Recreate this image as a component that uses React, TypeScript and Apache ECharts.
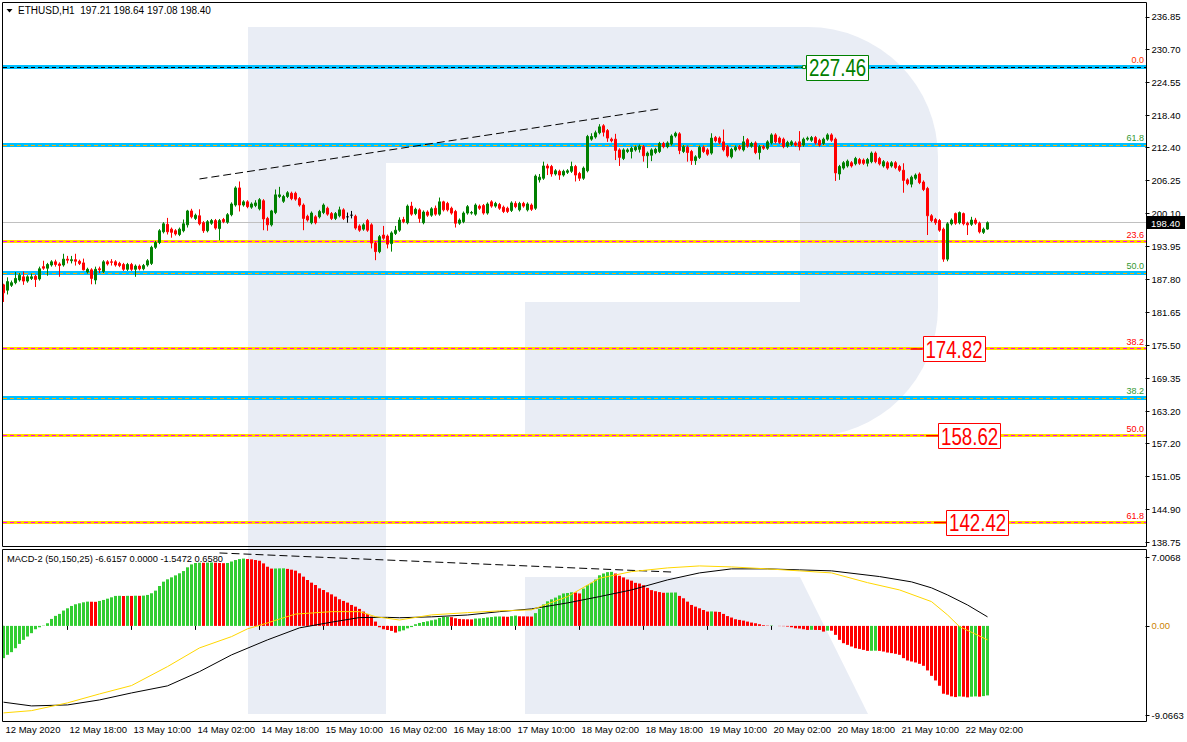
import React, { useEffect, useRef } from "react";
import * as echarts from "echarts";

const FONT = '"Liberation Sans", Arial, sans-serif';
const SLOTS = 286;

// [open, close, low, high] hourly candles from 12 May 02:00
const ohlc: number[][] = [
  [186.8,185.3,183.6,187.0],[185.8,187.4,185.0,188.2],[186.7,187.2,186.4,187.6],[187.2,188.0,186.9,189.2],[187.7,188.6,187.4,189.0],
  [188.3,187.5,186.8,189.3],[187.5,188.3,187.2,188.6],[188.0,188.3,187.7,188.9],[188.4,187.8,186.4,188.7],[187.9,189.8,187.6,190.2],
  [190.2,189.9,189.6,191.3],[189.9,190.6,188.5,190.9],[190.5,191.1,190.2,191.4],[191.1,190.6,190.2,191.5],[190.7,190.4,188.3,191.0],
  [190.5,191.6,190.2,192.6],[191.6,191.4,190.8,192.2],[191.3,191.5,190.8,192.2],[191.5,191.2,190.4,192.6],[191.2,190.8,190.5,191.5],
  [190.9,189.6,189.5,191.7],[189.2,189.7,188.9,190.0],[189.6,188.0,186.9,189.9],[187.7,189.7,186.9,190.2],[189.8,189.6,189.0,190.2],
  [189.3,191.1,189.0,191.4],[191.1,190.7,190.4,191.4],[191.1,191.0,190.4,191.6],[191.1,190.5,190.2,191.4],[190.8,190.4,190.1,191.1],
  [190.6,189.7,189.4,190.9],[189.7,190.6,189.4,190.9],[190.6,189.7,189.4,190.9],[189.7,190.3,188.3,190.6],[190.3,189.8,189.5,190.6],
  [189.8,190.4,189.5,190.7],[190.5,191.3,190.2,191.6],[190.8,193.8,190.5,194.1],[193.8,194.7,193.5,195.0],[194.7,196.9,194.4,197.2],
  [196.7,198.2,196.4,198.5],[198.1,196.7,196.2,199.3],[197.2,196.6,195.6,197.5],[196.9,196.3,196.0,197.2],[196.2,197.2,195.9,197.5],
  [196.9,198.2,196.6,199.0],[198.0,200.6,197.5,200.8],[200.6,199.5,199.2,201.0],[199.2,199.8,198.9,200.1],[199.7,198.2,197.9,200.9],
  [198.4,196.9,196.5,198.7],[196.9,198.6,196.6,198.9],[198.3,198.8,198.0,199.1],[198.8,197.4,197.1,199.1],[197.3,198.8,195.1,199.1],
  [199.0,198.6,198.3,199.3],[198.5,199.9,198.2,200.2],[199.9,201.9,199.6,202.2],[201.7,204.9,201.4,205.2],[204.9,201.7,200.5,206.1],
  [201.7,202.3,201.4,202.6],[202.3,201.4,201.1,202.6],[201.3,201.9,201.0,202.2],[201.6,202.1,201.3,202.6],[201.0,202.7,200.7,203.0],
  [202.5,199.1,197.0,202.8],[199.2,198.0,196.9,199.5],[198.0,200.6,197.7,200.8],[200.3,203.6,200.0,204.6],[203.3,203.6,203.0,205.1],
  [202.4,203.3,202.1,203.6],[203.3,204.0,203.0,204.3],[203.9,202.9,202.6,204.2],[203.9,202.8,202.5,204.2],[202.9,201.7,201.4,203.2],
  [201.7,199.2,197.0,202.0],[199.6,198.9,198.6,199.9],[198.4,200.2,198.1,200.5],[199.5,198.4,198.1,199.8],[199.5,200.5,199.2,200.8],
  [200.3,201.7,200.0,202.0],[201.1,200.0,199.7,201.4],[200.1,199.2,198.9,200.4],[199.2,200.1,198.9,200.4],[199.7,200.8,199.4,201.4],
  [200.8,199.2,198.9,201.1],[199.5,199.5,198.4,200.3],[199.8,199.8,199.2,200.6],[199.6,197.4,197.1,199.9],[197.8,197.0,196.7,198.1],
  [197.2,198.0,196.9,198.3],[198.8,197.0,196.7,199.1],[198.0,194.6,193.6,198.3],[194.6,193.0,191.4,194.9],[193.0,195.8,192.7,196.1],
  [196.1,195.5,195.2,197.8],[195.9,194.4,193.6,196.2],[194.5,196.5,193.0,196.8],[196.4,197.0,196.1,197.8],[197.0,198.9,196.7,199.4],
  [199.0,198.6,198.3,199.5],[198.4,201.5,198.1,201.8],[201.5,200.0,199.7,202.3],[200.1,200.9,199.8,201.2],[200.8,199.2,198.4,201.1],
  [198.4,200.4,198.1,200.7],[200.4,199.8,199.5,200.7],[199.8,201.0,199.5,201.3],[201.1,200.0,199.7,201.6],[200.0,202.3,199.7,203.1],
  [202.3,200.8,200.5,202.5],[202.0,200.8,200.5,202.3],[201.1,200.2,199.9,201.4],[200.5,198.3,197.5,200.8],[198.3,198.9,198.0,199.2],
  [198.6,200.2,198.3,200.5],[200.2,201.4,199.9,201.7],[200.2,200.3,199.9,200.6],[200.0,201.7,199.7,202.0],[201.5,201.1,200.8,201.8],
  [201.6,200.2,199.9,201.9],[200.2,201.9,199.9,202.2],[202.3,201.5,201.2,202.6],[201.5,202.0,201.2,202.3],[201.8,201.1,200.8,202.1],
  [201.3,200.5,200.2,201.6],[201.1,200.5,200.2,201.4],[200.7,202.1,200.4,202.4],[202.0,201.4,201.1,202.4],[200.8,202.0,200.5,202.3],
  [202.0,201.5,201.2,202.3],[200.8,201.9,200.5,202.2],[201.7,200.9,200.6,202.0],[201.1,207.1,200.8,207.4],[206.4,206.9,205.9,207.5],
  [206.7,209.0,206.4,209.8],[209.0,208.6,207.3,209.4],[208.9,207.5,207.0,209.2],[207.5,208.1,207.2,208.4],[208.0,207.3,206.4,208.3],
  [207.3,208.0,207.0,208.3],[207.8,208.1,207.5,208.4],[208.0,208.9,207.7,209.8],[208.9,207.3,206.1,209.2],[207.6,206.7,206.2,207.9],
  [206.7,208.6,206.4,208.9],[208.1,214.5,207.8,214.8],[214.0,214.5,213.7,215.1],[214.4,215.2,214.1,215.6],[215.2,216.3,214.9,216.8],
  [216.5,215.3,214.5,216.8],[215.6,214.2,213.5,215.9],[214.0,213.7,213.4,214.3],[214.0,211.9,210.1,215.0],[212.0,210.6,209.0,212.3],
  [210.4,212.0,210.1,212.3],[211.7,212.0,211.4,212.3],[211.7,212.3,210.4,212.6],[212.0,212.5,211.7,212.8],[212.1,212.7,211.5,213.0],
  [212.6,210.9,209.8,212.9],[210.9,211.4,208.6,211.7],[211.0,212.0,209.9,212.3],[211.5,212.1,211.2,212.4],[211.7,213.2,211.4,213.5],
  [213.2,212.6,212.3,213.5],[212.6,213.3,212.3,213.6],[213.1,214.6,212.8,214.9],[214.6,215.1,214.3,215.4],[215.0,211.9,211.2,215.3],
  [211.7,212.6,211.4,212.9],[212.5,211.5,209.8,212.8],[211.7,210.0,209.2,212.0],[210.0,210.7,209.2,211.0],[210.6,212.5,210.3,212.8],
  [212.5,211.7,211.4,212.8],[212.0,211.2,210.9,212.3],[211.4,214.2,211.1,215.1],[214.3,213.7,213.4,214.6],[214.2,213.4,213.1,214.5],
  [213.5,212.0,211.7,215.8],[212.6,210.9,210.6,212.9],[210.7,212.1,210.4,212.4],[212.0,212.5,211.7,212.8],[212.6,212.2,211.9,212.9],
  [212.0,213.5,211.7,214.6],[213.9,212.7,212.4,214.2],[212.7,213.2,212.4,213.5],[213.3,211.5,211.2,213.6],[211.5,212.6,210.2,212.9],
  [212.6,212.3,212.0,212.9],[212.3,213.5,212.0,213.8],[213.3,214.8,213.0,215.1],[214.8,213.5,213.2,215.1],[214.2,213.4,213.1,214.5],
  [214.0,212.6,212.3,214.3],[212.7,213.4,212.4,213.7],[213.0,213.5,212.7,213.8],[213.3,212.9,212.6,213.6],[213.5,212.6,211.9,215.5],
  [212.9,214.0,212.6,214.3],[214.0,214.2,213.7,214.5],[213.8,214.3,213.5,214.6],[214.3,213.3,213.0,214.6],[213.8,212.9,212.6,214.1],
  [213.2,214.0,212.9,214.3],[214.0,214.8,213.7,215.1],[214.8,213.8,213.5,215.1],[214.0,207.7,206.2,214.3],[207.5,208.9,206.4,209.2],
  [208.6,209.6,208.3,209.9],[209.0,209.9,208.7,210.2],[209.6,209.0,208.7,209.9],[209.4,210.4,209.1,210.7],[210.2,209.5,209.2,210.5],
  [210.1,209.5,209.2,210.4],[209.5,210.2,208.9,210.5],[209.8,211.4,209.5,211.7],[211.4,209.8,209.5,211.7],[210.4,209.4,209.1,210.7],
  [209.0,209.8,208.7,210.1],[209.6,208.6,208.3,209.9],[209.0,209.6,208.7,209.9],[209.6,208.7,208.4,209.9],[208.9,208.2,207.9,209.2],
  [208.2,206.3,204.0,209.5],[206.4,205.7,205.4,206.7],[205.6,206.9,205.0,207.2],[206.7,207.3,206.4,207.6],[207.5,205.9,205.6,207.8],
  [206.0,204.6,204.3,206.3],[204.8,199.7,196.1,205.1],[199.7,198.8,198.5,200.0],[199.0,198.4,198.0,199.3],[198.8,197.0,196.7,199.1],
  [197.2,191.6,191.1,197.5],[191.6,198.2,191.2,198.5],[198.2,198.9,197.9,199.2],[200.1,198.3,198.0,200.3],[198.4,200.3,198.1,200.5],
  [200.1,198.2,197.9,200.3],[198.3,198.0,196.1,198.6],[198.1,198.9,197.8,199.5],[198.9,198.3,198.0,199.3],[198.3,196.7,196.4,198.6],
  [196.6,197.2,196.3,197.5],[197.21,198.40,197.08,198.64],
];

const histogram: number[] = [
  -3.28,-2.94,-2.67,-2.27,-1.83,-1.42,-1.08,-0.74,-0.34,-0.14,
  0.03,0.27,0.71,1.02,1.22,1.56,1.79,2.03,2.20,2.30,
  2.40,2.47,2.46,2.45,2.54,2.64,2.77,2.91,3.05,3.06,
  3.04,3.06,3.05,3.07,3.06,3.08,3.15,3.32,3.59,4.06,
  4.50,4.74,4.94,5.14,5.35,5.58,5.96,6.26,6.40,6.43,
  6.42,6.44,6.45,6.43,6.40,6.38,6.40,6.55,6.70,6.80,
  6.85,6.80,6.77,6.70,6.63,6.36,6.02,5.83,5.84,5.85,
  5.86,5.80,5.72,5.62,5.35,5.01,4.67,4.40,4.16,3.82,
  3.65,3.42,3.21,2.98,2.71,2.54,2.37,2.13,1.96,1.73,
  1.46,1.22,0.95,0.44,-0.14,-0.34,-0.41,-0.51,-0.68,-0.55,
  -0.45,-0.25,-0.12,0.17,0.30,0.40,0.47,0.57,0.64,0.81,
  0.91,0.92,0.89,0.78,0.71,0.68,0.67,0.66,0.75,0.76,
  0.80,0.86,0.90,0.95,0.96,0.95,0.93,0.99,1.05,0.98,
  0.97,0.96,0.95,1.30,1.73,2.18,2.50,2.70,2.88,3.10,
  3.30,3.35,3.42,3.40,3.30,3.80,4.14,4.38,4.72,5.15,
  5.33,5.47,5.50,5.33,5.10,4.93,4.72,4.60,4.38,4.31,
  4.14,3.87,3.64,3.53,3.44,3.37,3.38,3.39,3.40,3.05,
  2.81,2.47,2.13,1.96,1.79,1.62,1.46,1.47,1.45,1.42,
  1.22,1.00,0.85,0.68,0.61,0.54,0.44,0.34,0.27,0.17,
  0.07,0.03,0.04,0.00,-0.02,-0.03,-0.07,-0.14,-0.24,-0.27,
  -0.34,-0.41,-0.40,-0.41,-0.42,-0.58,-0.48,-0.49,-0.91,-1.42,
  -1.76,-1.93,-2.10,-2.27,-2.34,-2.44,-2.54,-2.53,-2.52,-2.54,
  -2.61,-2.71,-2.77,-2.84,-2.94,-3.28,-3.52,-3.62,-3.72,-3.86,
  -4.06,-4.53,-5.08,-5.55,-6.09,-6.90,-7.00,-7.17,-7.24,-7.17,
  -7.20,-7.27,-7.20,-7.17,-7.20,-7.14,-7.07,
];

const macdBlack: number[][] = [
  [0,-7.76],[7,-8.14],[16,-8.04],[24,-7.53],[32,-6.82],[41,-6.10],[49,-4.65],[57,-2.95],[66,-1.42],[74,-0.2],
  [82,0.38],[89,0.85],[96,0.87],[99,0.83],[107,0.92],[116,1.11],[124,1.45],[132,1.73],[141,2.34],[149,2.98],
  [157,3.66],[166,4.68],[174,5.39],[182,5.80],[191,5.80],[199,5.70],[207,5.60],[219,5.02],[227,4.48],[232,3.87],
  [236,3.15],[241,2.13],[246,0.92],
];
const macdYellow: number[][] = [
  [0,-8.85],[7,-8.62],[16,-7.83],[24,-6.92],[32,-6.07],[41,-4.14],[49,-2.24],[57,-1.09],[61,-0.3],[66,0.3],
  [69,0.7],[73,1.2],[82,1.45],[89,1.45],[93,0.94],[99,0.6],[107,1.12],[116,1.35],[124,1.53],[132,1.63],
  [141,2.98],[149,4.85],[157,5.52],[166,5.90],[174,6.10],[182,6.00],[191,5.80],[199,5.60],[207,5.39],[216,4.40],
  [224,3.66],[232,2.47],[236,1.12],[239,-0.07],[246,-1.42],
];
const trendTop: number[][] = [[49,206.57],[164,219.66]];
const trendMacd: number[][] = [[54,7.42],[167,5.48]];

const timeTicks = [
  "12 May 2020","12 May 18:00","13 May 10:00","14 May 02:00","14 May 18:00","15 May 10:00",
  "16 May 02:00","16 May 18:00","17 May 10:00","18 May 02:00","18 May 18:00","19 May 10:00",
  "20 May 02:00","20 May 18:00","21 May 10:00","22 May 02:00",
];
const priceTicks = [236.85,230.70,224.55,218.40,212.40,206.25,200.10,193.95,187.80,181.65,175.50,169.35,163.20,157.20,151.05,144.90,138.75];
const macdTicks = [7.0068, 0, -9.0663];

const fibBlueLevels = [227.46, 212.95, 189.08, 165.74];
const fibBlueNames = ["0.0", "61.8", "50.0", "38.2"];
const fibGoldLevels = [194.94, 174.82, 158.62, 142.42];
const fibGoldNames = ["23.6", "38.2", "50.0", "61.8"];
const lastPrice = 198.40;

const boxIndex = [208.4, 237.5, 241.4, 243.4];
const boxPrice = [227.46, 174.82, 158.62, 142.42];
const boxColor = ["#008000", "#ff0000", "#ff0000", "#ff0000"];

const GREEN = "#008000";
const RED = "#ff0000";
const LIME = "#32cd32";
const WM = "#e9edf5";

export default function App() {
  const ref = useRef<HTMLDivElement>(null);
  useEffect(() => {
    document.body.style.margin = "0";
    const chart = echarts.init(ref.current!, null, { renderer: "svg" });
    const cats = Array.from({ length: SLOTS }, (_, i) => String(i));
    const shown = (i: number) => i % 16 === 0 && i / 16 < timeTicks.length;

    const candleData = ohlc.map((d) =>
      d[0] === d[1]
        ? { value: d, itemStyle: { color: "#000", color0: "#000", borderColor: "#000", borderColor0: "#000" } }
        : d
    );

    const option: any = {
      animation: false,
      backgroundColor: "#fff",
      grid: [
        { left: 1.5, top: 2.5, width: SLOTS * 4, height: 544, outerBoundsMode: "none" },
        { left: 1.5, top: 549.5, width: SLOTS * 4, height: 172, outerBoundsMode: "none" },
      ],
      xAxis: [
        { type: "category", gridIndex: 0, data: cats, boundaryGap: true, axisLine: { show: false }, axisTick: { show: false }, axisLabel: { show: false }, splitLine: { show: false } },
        {
          type: "category", gridIndex: 1, data: cats, boundaryGap: true, axisLine: { show: false }, splitLine: { show: false },
          axisTick: { show: true, alignWithLabel: true, interval: (i: number) => shown(i), length: 4, lineStyle: { color: "#000", width: 1 } },
          axisLabel: {
            show: true, interval: (i: number) => shown(i), formatter: (_v: string, i: number) => (shown(i) ? timeTicks[i / 16] : ""),
            align: "left", margin: 3, padding: [0, 0, 0, 2], fontSize: 9.5, fontFamily: FONT, color: "#000",
          },
        },
      ],
      yAxis: [
        {
          type: "value", gridIndex: 0, position: "right", min: 137.94, max: 239.52, scale: true,
          axisLine: { show: false }, splitLine: { show: false },
          axisTick: { show: true, customValues: priceTicks, length: 4, lineStyle: { color: "#000" } },
          axisLabel: { show: true, customValues: priceTicks, formatter: (v: number) => v.toFixed(2), margin: 6, fontSize: 9.5, fontFamily: FONT, color: "#000" },
        },
        {
          type: "value", gridIndex: 1, position: "right", min: -9.725, max: 7.772, scale: true,
          axisLine: { show: false }, splitLine: { show: false },
          axisTick: { show: true, customValues: macdTicks, length: 4, lineStyle: { color: "#000" } },
          axisLabel: {
            show: true, customValues: macdTicks, margin: 6, fontSize: 9.5, fontFamily: FONT, color: "#000",
            formatter: (v: number) => (v === 0 ? "{o|0.00}" : v.toFixed(4)),
            rich: { o: { color: "#cc8400", fontSize: 9.5, fontFamily: FONT } },
          },
        },
      ],
      series: [
        {
          type: "line", xAxisIndex: 0, yAxisIndex: 0, data: trendTop, symbol: "none", showSymbol: false, z: 4,
          lineStyle: { color: "#000", width: 1, type: [8, 4] }, silent: true,
        },
        {
          type: "candlestick", xAxisIndex: 0, yAxisIndex: 0, data: candleData, barWidth: 2, z: 5,
          itemStyle: { color: GREEN, color0: RED, borderColor: GREEN, borderColor0: RED, borderWidth: 1 },
        },
        {
          type: "bar", xAxisIndex: 1, yAxisIndex: 1, data: histogram, barWidth: 3, z: 2,
          itemStyle: { color: (p: any) => (p.dataIndex === 0 || histogram[p.dataIndex] >= histogram[p.dataIndex - 1] ? LIME : RED) },
        },
        { type: "line", xAxisIndex: 1, yAxisIndex: 1, data: macdBlack, symbol: "none", showSymbol: false, z: 4, lineStyle: { color: "#000", width: 1 } },
        { type: "line", xAxisIndex: 1, yAxisIndex: 1, data: macdYellow, symbol: "none", showSymbol: false, z: 5, lineStyle: { color: "#ffd700", width: 1 } },
        { type: "line", xAxisIndex: 1, yAxisIndex: 1, data: trendMacd, symbol: "none", showSymbol: false, z: 4, lineStyle: { color: "#000", width: 1, type: [8, 4] } },
      ],
    };
    chart.setOption(option);

    const wm = { fill: WM };
    const elements: any[] = [
      { type: "rect", z: -5, silent: true, shape: { x: 248, y: 27, width: 138, height: 687 }, style: wm },
      { type: "rect", z: -5, silent: true, shape: { x: 385, y: 27, width: 416, height: 136 }, style: wm },
      { type: "rect", z: -5, silent: true, shape: { x: 800, y: 27, width: 138, height: 410, r: [0, 130, 130, 0] }, style: wm },
      { type: "rect", z: -5, silent: true, shape: { x: 525, y: 302, width: 276, height: 135 }, style: wm },
      { type: "polygon", z: -5, silent: true, shape: { points: [[525, 577], [800, 577], [868, 714], [525, 714]] }, style: wm },
      { type: "rect", z: 50, silent: true, shape: { x: 2.5, y: 2.5, width: 1144, height: 544 }, style: { fill: "none", stroke: "#000", lineWidth: 1 } },
      { type: "rect", z: 50, silent: true, shape: { x: 2.5, y: 549.5, width: 1144, height: 172 }, style: { fill: "none", stroke: "#000", lineWidth: 1 } },
      { type: "polygon", z: 50, silent: true, shape: { points: [[6.5, 9], [12.5, 9], [9.5, 12.5]] }, style: { fill: "#000" } },
      { type: "text", z: 50, silent: true, x: 18, y: 10.5, style: { text: "ETHUSD,H1  197.21 198.64 197.08 198.40", fill: "#000", fontSize: 10, fontFamily: FONT, verticalAlign: "middle" } },
      { type: "text", z: 50, silent: true, x: 7, y: 558.5, style: { text: "MACD-2 (50,150,25) -6.6157 0.0000 -1.5472 0.6580", fill: "#000", fontSize: 9.3, fontFamily: FONT, verticalAlign: "middle" } },
    ];

    const X0 = 3, X1 = 1146;
    const yOf = (v: number) => (chart.convertToPixel({ gridIndex: 0 }, [0, v]) as number[])[1];
    const levelLine = (v: number, band: string, bandW: number, dash: string, name: string, nameColor: string) => {
      const raw = yOf(v);
      const top = Math.round(raw - bandW / 2);
      const mid = top + Math.floor(bandW / 2) + 0.5;
      elements.push({ type: "rect", z: 1, silent: true, shape: { x: X0, y: top, width: X1 - X0, height: bandW }, style: { fill: band } });
      elements.push({ type: "line", z: 2, silent: true, shape: { x1: X0, y1: mid, x2: X1, y2: mid }, style: { stroke: dash, lineWidth: 1, lineDash: [4, 3] } });
      elements.push({ type: "text", z: 3, silent: true, x: 1144, y: top - 1, style: { text: name, fill: nameColor, fontSize: 9, fontFamily: FONT, align: "right", verticalAlign: "bottom" } });
    };
    fibBlueLevels.forEach((v, k) => levelLine(v, "#00bfff", 4, k === 0 ? "#000" : "#ffb000", fibBlueNames[k], k === 0 ? "#ff3300" : "#339933"));
    fibGoldLevels.forEach((v, k) => levelLine(v, "#ffd700", 3, "#ff00ff", fibGoldNames[k], "#ff0000"));

    // current price line + axis marker
    const yl = Math.round(yOf(lastPrice) - 0.5) + 0.5;
    elements.push({ type: "line", z: 1, silent: true, shape: { x1: X0, y1: yl, x2: X1, y2: yl }, style: { stroke: "#c0c0c0", lineWidth: 1 } });
    elements.push({ type: "rect", z: 60, silent: true, shape: { x: 1147, y: yl - 6.5, width: 38, height: 13 }, style: { fill: "#000" } });
    elements.push({ type: "text", z: 61, silent: true, x: 1151, y: yl + 0.5, style: { text: lastPrice.toFixed(2), fill: "#fff", fontSize: 9.5, fontFamily: FONT, verticalAlign: "middle" } });

    boxIndex.forEach((bi, k) => {
      const i0 = Math.floor(bi);
      const p0 = chart.convertToPixel({ gridIndex: 0 }, [i0, boxPrice[k]]) as number[];
      const p1 = chart.convertToPixel({ gridIndex: 0 }, [i0 + 1, boxPrice[k]]) as number[];
      const cx = p0[0] + (bi - i0) * (p1[0] - p0[0]);
      const cy = p0[1];
      const w = 62, h = 25, left = cx - w / 2;
      const col = boxColor[k];
      if (k === 0) {
        elements.push({ type: "line", z: 40, silent: true, shape: { x1: left - 12, y1: cy, x2: left - 3, y2: cy }, style: { stroke: col, lineWidth: 1 } });
        elements.push({ type: "rect", z: 41, silent: true, shape: { x: left - 3.5, y: cy - 1.5, width: 3, height: 3 }, style: { fill: "#fff", stroke: col, lineWidth: 1 } });
      } else {
        elements.push({ type: "line", z: 40, silent: true, shape: { x1: left - 12, y1: cy, x2: left, y2: cy }, style: { stroke: col, lineWidth: 1.5 } });
      }
      elements.push({ type: "rect", z: 40, silent: true, shape: { x: Math.round(left) + 0.5, y: Math.round(cy - 12.5) + 0.5, width: w, height: h }, style: { fill: "#fff", stroke: col, lineWidth: 1 } });
      elements.push({
        type: "text", z: 42, silent: true, x: cx + 0.5, y: cy + 1, scaleX: 0.78,
        style: { text: boxPrice[k].toFixed(2), fill: col, fontSize: 24, fontFamily: FONT, align: "center", verticalAlign: "middle" },
      });
    });

    chart.setOption({ graphic: { elements } });
    return () => chart.dispose();
  }, []);
  return <div ref={ref} style={{ width: 1187, height: 742 }} />;
}
